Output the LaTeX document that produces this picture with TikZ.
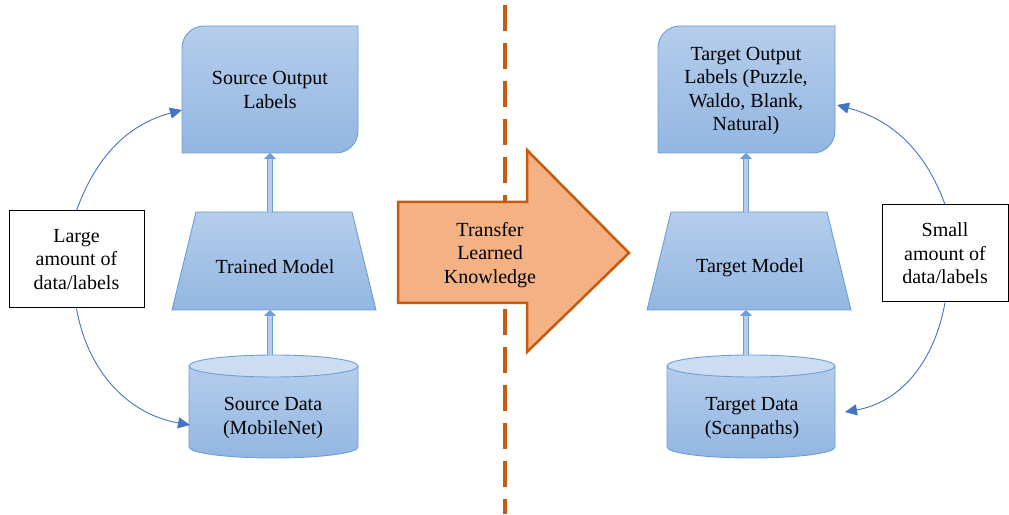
\documentclass[tikz,border=0pt]{standalone}
\usepackage{fontspec}
\setmainfont{LiberationSerif}[Extension=.ttf, UprightFont=*-Regular, BoldFont=*-Bold]
\usetikzlibrary{arrows.meta}

\definecolor{boxtop}{HTML}{B5CDEB}
\definecolor{boxbot}{HTML}{93B6E2}
\definecolor{boxline}{HTML}{6A9FD8}
\definecolor{captop}{HTML}{CCDDF1}
\definecolor{curvecol}{HTML}{4472C4}
\definecolor{xferfill}{HTML}{F4B183}
\definecolor{xferline}{HTML}{C55A11}

\tikzset{
  panel/.style={draw=boxline, line width=0.9pt, top color=boxtop, bottom color=boxbot},
  lbl/.style={align=center, font=\rmfamily\fontsize{20}{23.5}\selectfont},
  infobox/.style={lbl, draw=black, line width=1pt, fill=white, minimum height=97pt},
  feed/.style={curvecol, line width=0.9pt, -{Triangle[length=12pt,width=11pt]}},
  upflow/.style={draw=boxline, line width=1pt, double=boxtop, double distance=3.5pt,
    -{Triangle[length=6pt,width=12pt]}},
  divider/.style={xferline, line width=4.5pt, dash pattern=on 26pt off 12pt, dash phase=33pt}
}

\begin{document}
\begin{tikzpicture}[x=1pt, y=1pt]
  \useasboundingbox (0,0) rectangle (1009,514);

  % Dashed split line
  \draw[divider] (505,514) -- (505,0);

  % Source side shapes
  \path[panel] (182,361) -- (182,466) .. controls (182,478.1) and (191.9,488) .. (204,488)
    -- (358,488) -- (358,383) .. controls (358,370.9) and (348.1,361) .. (336,361) -- cycle;
  \path[panel] (172,204) -- (196,302) -- (352,302) -- (376,204) -- cycle;
  \path[panel] (189,148) -- (189,67) arc[start angle=180, end angle=360, x radius=84.5, y radius=11]
    -- (358,148) -- cycle;
  \filldraw[draw=boxline, line width=0.9pt, fill=captop] (273.5,148) ellipse [x radius=84.5, y radius=11];

  % Target side shapes
  \path[panel] (658,361) -- (658,466) .. controls (658,478.1) and (667.9,488) .. (680,488)
    -- (835,488) -- (835,383) .. controls (835,370.9) and (825.1,361) .. (813,361) -- cycle;
  \path[panel] (647,204) -- (671,302) -- (827,302) -- (851,204) -- cycle;
  \path[panel] (667,148) -- (667,67) arc[start angle=180, end angle=360, x radius=84, y radius=11]
    -- (835,148) -- cycle;
  \filldraw[draw=boxline, line width=0.9pt, fill=captop] (751,148) ellipse [x radius=84, y radius=11];

  % Transfer arrow
  \filldraw[fill=xferfill, draw=xferline, line width=2.5pt, line join=miter]
    (398,312) -- (527,312) -- (527,364) -- (629,261) -- (527,162) -- (527,211) -- (398,211) -- cycle;
  \node[lbl] (transfer) at (490,259) {Transfer\\Learned\\Knowledge};

  % Labels
  \node[lbl] (srcout) at (270,424) {Source Output\\Labels};
  \node[lbl] (trained) at (275,247) {Trained Model};
  \node[lbl] (srcdata) at (273,96) {Source Data\\(MobileNet)};
  \node[lbl] (tgtout) at (746,423) {Target Output\\Labels (Puzzle,\\Waldo, Blank,\\Natural)};
  \node[lbl] (tgtmodel) at (750,246) {Target Model};
  \node[lbl] (tgtdata) at (752,96) {Target Data\\(Scanpaths)};

  \node[infobox, minimum width=135pt] (large) at (76.5,254.5) {Large\\amount of\\data/labels};
  \node[infobox, minimum width=126pt] (small) at (945,260.5) {Small\\amount of\\data/labels};

  % Edge points
  \coordinate (srcoutS) at (270,361);
  \coordinate (trainedN) at (270,302);
  \coordinate (trainedS) at (270,204);
  \coordinate (srcdataN) at (270,159);
  \coordinate (tgtoutS) at (746,361);
  \coordinate (tgtmodelN) at (746,302);
  \coordinate (tgtmodelS) at (746,204);
  \coordinate (tgtdataN) at (746,159);
  \coordinate (srcoutW) at (182,404);
  \coordinate (srcdataW) at (190,89);
  \coordinate (tgtoutE) at (837,409);
  \coordinate (tgtdataE) at (845,102);

  % Flow arrows
  \draw[upflow] (trainedN) -- (srcoutS);
  \draw[upflow] (srcdataN) -- (trainedS);
  \draw[upflow] (tgtmodelN) -- (tgtoutS);
  \draw[upflow] (tgtdataN) -- (tgtmodelS);

  % Data amount curves
  \draw[feed] (large.north) to[out=70, in=195] (srcoutW);
  \draw[feed] (large.south) to[out=-80, in=170] (srcdataW);
  \draw[feed] (small.north) to[out=110, in=-15] (tgtoutE);
  \draw[feed] (small.south) to[out=-100, in=10] (tgtdataE);
\end{tikzpicture}
\end{document}
